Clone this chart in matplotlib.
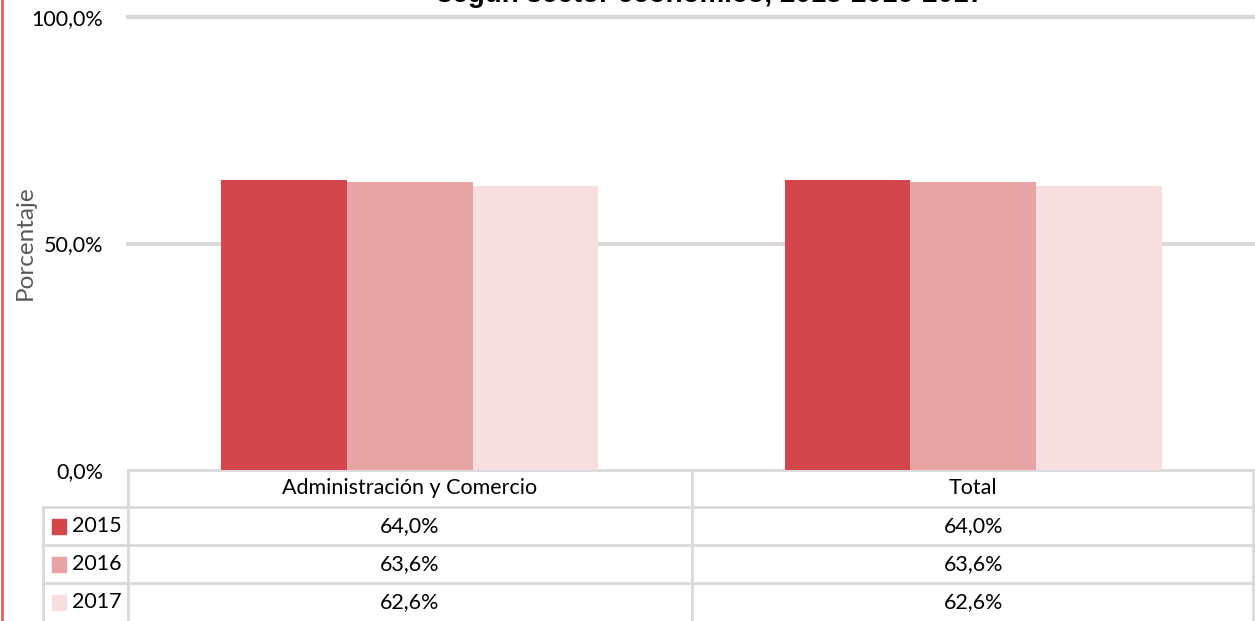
import matplotlib.pyplot as plt
from matplotlib.lines import Line2D
from matplotlib.patches import Rectangle

# --- DATA ---
categories = ["Administración y Comercio", "Total"]
years = ["2015", "2016", "2017"]
values_2015 = [64.0, 64.0]
values_2016 = [63.6, 63.6]
values_2017 = [62.6, 62.6]
y_ticks = [0, 50, 100]
y_tick_labels = ["0,0%", "50,0%", "100,0%"]

series = [values_2015, values_2016, values_2017]
colors = ["#d4464c", "#e8a3a5", "#f7dfe0"]
grid_color = "#d9d9d9"
font = "Lato"
fs = 15.5


def fmt(v):
    return f"{v:.1f}%".replace(".", ",")


# --- FIGURE ---
fig = plt.figure(figsize=(12.55, 6.21), dpi=100)
ax = fig.add_axes([128 / 1255, 151 / 621, 1127 / 1255, 453 / 621])

bar_w = 0.223
for i, vals in enumerate(series):
    xs = [c + (i - 1) * bar_w for c in range(len(categories))]
    ax.bar(xs, vals, width=bar_w, color=colors[i], zorder=3)

ax.set_xlim(-0.5, len(categories) - 0.5)
ax.set_ylim(0, 100)
ax.set_yticks(y_ticks)
ax.set_yticklabels(y_tick_labels, fontsize=fs, family=font)
ax.tick_params(axis="y", length=0, pad=18)
ax.set_xticks([])
for yv in y_ticks[1:]:
    ax.axhline(yv, color=grid_color, lw=3, zorder=1, clip_on=False)
for s in ax.spines.values():
    s.set_visible(False)

fig.text(25 / 1255, 1 - 243 / 621, "Porcentaje", rotation=90, ha="center",
         va="center", fontsize=17.5, color="#595959", family=font)

# title, cut off by the top of the image as in the source
fig.text(710 / 1255, 1 - 2 / 621, "según sector económico, 2015-2016-2017",
         ha="center", va="baseline", fontsize=20, fontweight="bold",
         family="Liberation Sans")

# left red border line
fig.add_artist(Line2D([2 / 1255, 2 / 1255], [0, 1], color="#e06066", lw=2))

# --- DATA TABLE BELOW THE AXIS ---
ph = 453.0
pw = 1127.0
row_y = [0, -37 / ph, -75 / ph, -113 / ph, -151 / ph]
lab_x = -85 / pw
line_kw = dict(color=grid_color, lw=2, transform=ax.transAxes, clip_on=False)

ax.add_line(Line2D([0, 1], [row_y[0], row_y[0]], **line_kw))
for y in row_y[1:4]:
    ax.add_line(Line2D([lab_x, 1], [y, y], **line_kw))
ax.add_line(Line2D([0, 0], [row_y[0], row_y[-1]], **line_kw))
ax.add_line(Line2D([0.5, 0.5], [row_y[0], row_y[-1]], **line_kw))
ax.add_line(Line2D([0.9985, 0.9985], [row_y[0], row_y[-1]], **line_kw))
ax.add_line(Line2D([lab_x, lab_x], [row_y[1], row_y[-1]], **line_kw))

for j, cat in enumerate(categories):
    ax.text(0.25 + 0.5 * j, (row_y[0] + row_y[1]) / 2, cat, ha="center",
            va="center", fontsize=fs, family=font, transform=ax.transAxes)

for i, (yr, vals) in enumerate(zip(years, series)):
    yc = (row_y[i + 1] + row_y[i + 2]) / 2
    ax.add_patch(Rectangle((-76 / pw, yc - 7.5 / ph), 14 / pw, 15 / ph,
                           color=colors[i], transform=ax.transAxes,
                           clip_on=False))
    ax.text(-56 / pw, yc, yr, ha="left", va="center", fontsize=fs,
            family=font, transform=ax.transAxes)
    for j, v in enumerate(vals):
        ax.text(0.25 + 0.5 * j, yc, fmt(v), ha="center", va="center",
                fontsize=fs, family=font, transform=ax.transAxes)

fig.savefig("out.png", dpi=100)
